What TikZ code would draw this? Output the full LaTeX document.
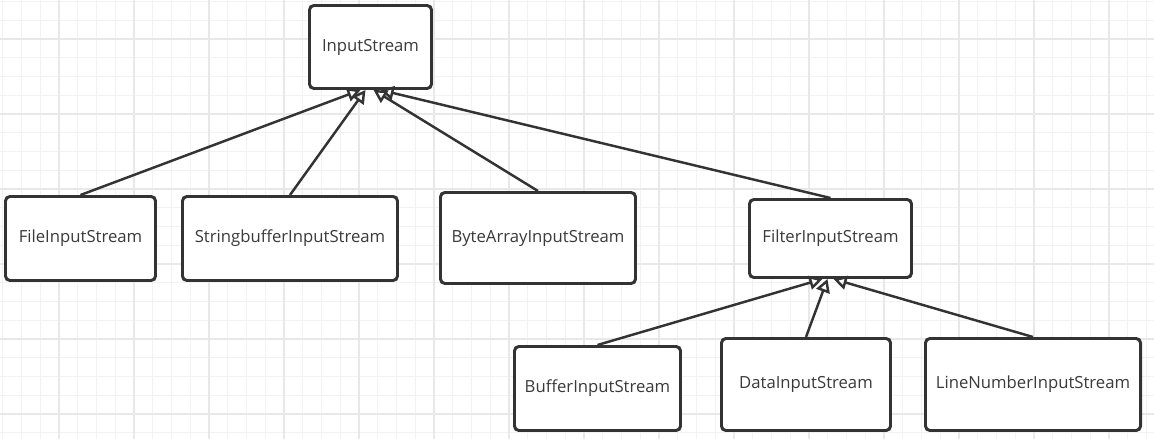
\documentclass[tikz,border=0pt]{standalone}
\usepackage{fontspec}
\setmainfont{Open Sans}
\usepackage{xcolor}
\usetikzlibrary{arrows.meta,positioning}
\definecolor{ink}{HTML}{333333}
\definecolor{label}{HTML}{3A3A3A}
\definecolor{gridmin}{HTML}{F2F2F2}
\definecolor{gridmaj}{HTML}{E8E8E8}

\begin{document}
\begin{tikzpicture}[x=0.02cm, y=-0.02cm,
    cls/.style={draw=ink, line width=1.7pt, rounded corners=2.5pt, fill=white,
        text=label, font=\fontsize{9.5}{11}\selectfont, inner sep=0pt},
    ext/.style={draw=ink, line width=1.4pt, -{Triangle[open, length=7.5pt, width=8pt]}}]
    \useasboundingbox (0,0) rectangle (1154,439);
    % 背景网格
    \foreach \i in {0,...,61} {
        \draw[gridmin, line width=0.5pt] ({2.75+18.75*\i},0) -- ++(0,439);
    }
    \foreach \j in {0,...,23} {
        \draw[gridmin, line width=0.5pt] (0,{1.5+18.75*\j}) -- ++(1154,0);
    }
    \foreach \i in {0,...,15} {
        \draw[gridmaj, line width=0.6pt] ({59+75*\i},0) -- ++(0,439);
    }
    \foreach \j in {0,...,5} {
        \draw[gridmaj, line width=0.6pt] (0,{39+75*\j}) -- ++(1154,0);
    }
    % 类
    \foreach \n/\x/\y/\w/\h/\t in {
        is/370.5/47/122/83/InputStream,
        fis/80.5/238.5/150/84/FileInputStream,
        sbis/290/238.5/215/84/StringbufferInputStream,
        bais/538/238/195/91/ByteArrayInputStream,
        filt/830.5/238.5/162/78/FilterInputStream,
        bis/597.5/388.5/166/84/BufferInputStream,
        dis/806/384.5/169/92/DataInputStream,
        lnis/1033/384.5/215/92/LineNumberInputStream} {
        \node[cls, minimum width=\w*0.02cm, minimum height=\h*0.02cm] (\n) at (\x,\y) {\t};
    }
    % 继承关系
    \draw[ext] (fis.north) -- ([xshift=-0.2cm]is.south);
    \draw[ext] (sbis.north) -- ([xshift=-0.1cm]is.south);
    \draw[ext] (bais.north) -- ([xshift=0.06cm]is.south);
    \draw[ext] (filt.north) -- ([xshift=0.2cm]is.south);
    \draw[ext] (bis.north) -- ([xshift=-0.16cm]filt.south);
    \draw[ext] (dis.north) -- ([xshift=-0.06cm]filt.south);
    \draw[ext] (lnis.north) -- ([xshift=0.06cm]filt.south);
\end{tikzpicture}
\end{document}
